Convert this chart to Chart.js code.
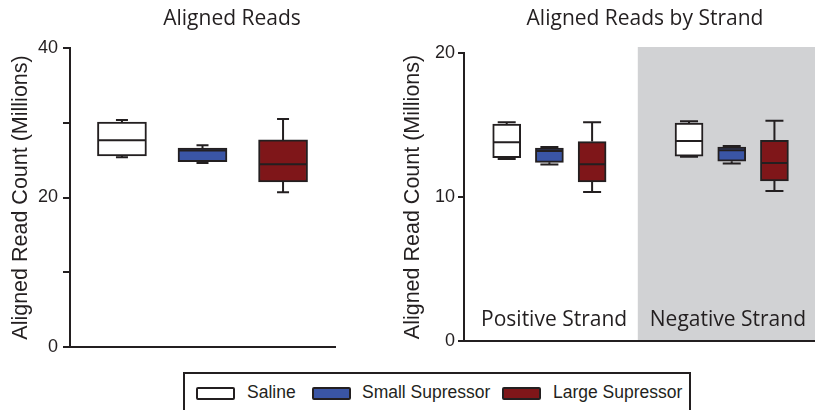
<!DOCTYPE html>
<html lang="en">
<head>
    <meta charset="UTF-8">
    <title>Aligned Reads</title>
    <style>
        body {
            margin: 0;
            background: #fff;
            font-family: "Liberation Sans", Arial, sans-serif;
            color: #231f20;
        }
        #page {
            position: relative;
            width: 815px;
            height: 410px;
            overflow: hidden;
        }
        canvas {
            position: absolute;
            top: 0;
        }
        .title {
            position: absolute;
            top: 7px;
            width: 320px;
            text-align: center;
            font-family: "Open Sans", sans-serif;
            font-size: 21px;
            line-height: 21px;
            white-space: nowrap;
        }
        #legend {
            position: absolute;
            left: 183px;
            top: 372px;
            width: 504px;
            height: 60px;
            border: 2px solid #231f20;
        }
        .swatch {
            position: absolute;
            top: 387px;
            width: 35px;
            height: 9px;
            border: 2px solid #231f20;
            border-radius: 2px;
        }
        .label {
            position: absolute;
            top: 383px;
            font-size: 17.5px;
            line-height: 18px;
            white-space: nowrap;
        }
    </style>
</head>
<body>
<div id="page">
    <canvas id="left-chart" width="400" height="370" style="left:0"></canvas>
    <canvas id="right-chart" width="415" height="370" style="left:400px"></canvas>
    <div class="title" style="left:72px">Aligned Reads</div>
    <div class="title" style="left:485px">Aligned Reads by Strand</div>
    <div id="legend"></div>
    <div class="swatch" style="left:196px;background:#ffffff"></div>
    <div class="label" style="left:247px">Saline</div>
    <div class="swatch" style="left:312px;background:#3a55a5"></div>
    <div class="label" style="left:362px">Small Supressor</div>
    <div class="swatch" style="left:502px;background:#7f1619"></div>
    <div class="label" style="left:553px">Large Supressor</div>
</div>

<script src="https://cdn.jsdelivr.net/npm/chart.js"></script>
<script>
    // groups
    const groups = ['Saline', 'Small Supressor', 'Large Supressor'];
    const strands = ['Positive Strand', 'Negative Strand'];

    // total aligned reads (millions)
    const allMin = [25.4, 24.6, 20.7];
    const allQ1 = [25.55, 24.8, 22.1];
    const allMedian = [27.65, 26.3, 24.45];
    const allQ3 = [30.1, 26.6, 27.7];
    const allMax = [30.37, 27.0, 30.5];

    // positive strand
    const posMin = [12.64, 12.25, 10.35];
    const posQ1 = [12.73, 12.41, 11.04];
    const posMedian = [13.8, 13.2, 12.27];
    const posQ3 = [15.07, 13.4, 13.85];
    const posMax = [15.19, 13.47, 15.19];

    // negative strand
    const negMin = [12.8, 12.32, 10.42];
    const negQ1 = [12.83, 12.48, 11.11];
    const negMedian = [13.89, 13.24, 12.36];
    const negQ3 = [15.14, 13.47, 13.94];
    const negMax = [15.26, 13.54, 15.3];

    const leftTicks = [0, 20, 40];
    const rightTicks = [0, 10, 20];

    const ink = '#231f20';
    const fills = ['#ffffff', '#3a55a5', '#7f1619'];
    const shade = '#d1d2d4';

    Chart.defaults.font.family = '"Liberation Sans", Arial, sans-serif';
    Chart.defaults.color = ink;

    // whiskers + median lines on top of the floating bars
    const whiskerPlugin = {
        id: 'whiskers',
        afterDatasetsDraw(chart) {
            const ctx = chart.ctx;
            const y = chart.scales.y;
            const ds = chart.data.datasets[0];
            const meta = chart.getDatasetMeta(0);
            ctx.save();
            ctx.strokeStyle = ink;
            ctx.lineWidth = 2;
            meta.data.forEach((bar, i) => {
                const half = bar.width / 2;
                const cap = ds.capWidth / 2;
                const yMin = y.getPixelForValue(ds.lows[i]);
                const yMax = y.getPixelForValue(ds.highs[i]);
                const yQ1 = y.getPixelForValue(ds.data[i].y[0]);
                const yQ3 = y.getPixelForValue(ds.data[i].y[1]);
                const yMed = y.getPixelForValue(ds.medians[i]);
                ctx.beginPath();
                ctx.moveTo(bar.x, yQ3); ctx.lineTo(bar.x, yMax);
                ctx.moveTo(bar.x - cap, yMax); ctx.lineTo(bar.x + cap, yMax);
                ctx.moveTo(bar.x, yQ1); ctx.lineTo(bar.x, yMin);
                ctx.moveTo(bar.x - cap, yMin); ctx.lineTo(bar.x + cap, yMin);
                ctx.moveTo(bar.x - half + 1, yMed); ctx.lineTo(bar.x + half - 1, yMed);
                ctx.stroke();
            });
            ctx.restore();
        }
    };

    // grey panel behind the negative strand, and the strand names
    const strandPlugin = {
        id: 'strands',
        beforeDraw(chart, args, opts) {
            if (!opts.labels) return;
            const {ctx, chartArea} = chart;
            const x = chart.scales.x;
            ctx.save();
            ctx.fillStyle = shade;
            const x0 = x.getPixelForValue(opts.shadeFrom);
            ctx.fillRect(x0, chartArea.top - 6, chartArea.right - x0, chartArea.bottom - chartArea.top + 6);
            ctx.fillStyle = ink;
            ctx.font = '21px "Open Sans", sans-serif';
            ctx.textAlign = 'center';
            opts.labels.forEach((txt, i) => {
                ctx.fillText(txt, x.getPixelForValue(opts.labelAt[i]), chartArea.bottom - 15);
            });
            ctx.restore();
        }
    };

    function boxDataset(xs, mins, q1s, meds, q3s, maxs, colors, thickness, capWidth) {
        return {
            data: xs.map((x, i) => ({ x: x, y: [q1s[i], q3s[i]] })),
            lows: mins,
            highs: maxs,
            medians: meds,
            capWidth: capWidth,
            backgroundColor: colors,
            borderColor: ink,
            borderWidth: 2,
            borderSkipped: false,
            barThickness: thickness
        };
    }

    function axes(yMax, yTicks, xMin, xMax, yWidth, tickLen, tickPad, titlePad) {
        return {
            x: {
                type: 'linear',
                offset: false,
                min: xMin,
                max: xMax,
                ticks: { display: false },
                grid: { display: true, drawOnChartArea: false, drawTicks: false, offset: false },
                border: { color: ink, width: 2 },
                afterFit: s => { s.height = 0; }
            },
            y: {
                min: 0,
                max: yMax,
                ticks: {
                    stepSize: 10,
                    padding: tickPad,
                    color: ink,
                    font: { size: 18 },
                    callback: v => yTicks.includes(v) ? String(v) : ''
                },
                grid: {
                    drawOnChartArea: false,
                    drawTicks: true,
                    tickLength: tickLen,
                    color: ink,
                    tickColor: ink,
                    lineWidth: 2
                },
                border: { color: ink, width: 2 },
                title: {
                    display: true,
                    text: 'Aligned Read Count (Millions)',
                    color: ink,
                    font: { size: 21.5 },
                    padding: { top: titlePad, bottom: 0 }
                },
                afterFit: s => { s.width = yWidth; }
            }
        };
    }

    // left: total
    new Chart(document.getElementById('left-chart'), {
        type: 'bar',
        data: {
            datasets: [boxDataset(groups.map((g, i) => i), allMin, allQ1, allMedian, allQ3, allMax, fills, 49, 12)]
        },
        options: {
            responsive: false,
            animation: false,
            layout: { padding: { top: 48, bottom: 23, left: 0, right: 65 } },
            plugins: { legend: { display: false }, tooltip: { enabled: false }, strands: {} },
            scales: axes(40, leftTicks, -0.645, 2.645, 70, 7, 5, 8)
        },
        plugins: [whiskerPlugin]
    });

    // right: by strand
    const groupStride = 4.27;
    const strandX = [];
    const strandFills = [];
    strands.forEach((s, g) => groups.forEach((grp, i) => {
        strandX.push(g * groupStride + i);
        strandFills.push(fills[i]);
    }));

    new Chart(document.getElementById('right-chart'), {
        type: 'bar',
        data: {
            datasets: [boxDataset(strandX,
                posMin.concat(negMin), posQ1.concat(negQ1), posMedian.concat(negMedian),
                posQ3.concat(negQ3), posMax.concat(negMax), strandFills, 28, 18)]
        },
        options: {
            responsive: false,
            animation: false,
            layout: { padding: { top: 53, bottom: 29, left: 0, right: 0 } },
            plugins: {
                legend: { display: false },
                tooltip: { enabled: false },
                strands: { labels: strands, labelAt: [1.11, 5.18], shadeFrom: 3.07 }
            },
            scales: axes(20, rightTicks, -1, 7.22, 64, 6, 3, 0)
        },
        plugins: [strandPlugin, whiskerPlugin]
    });
</script>
</body>
</html>
